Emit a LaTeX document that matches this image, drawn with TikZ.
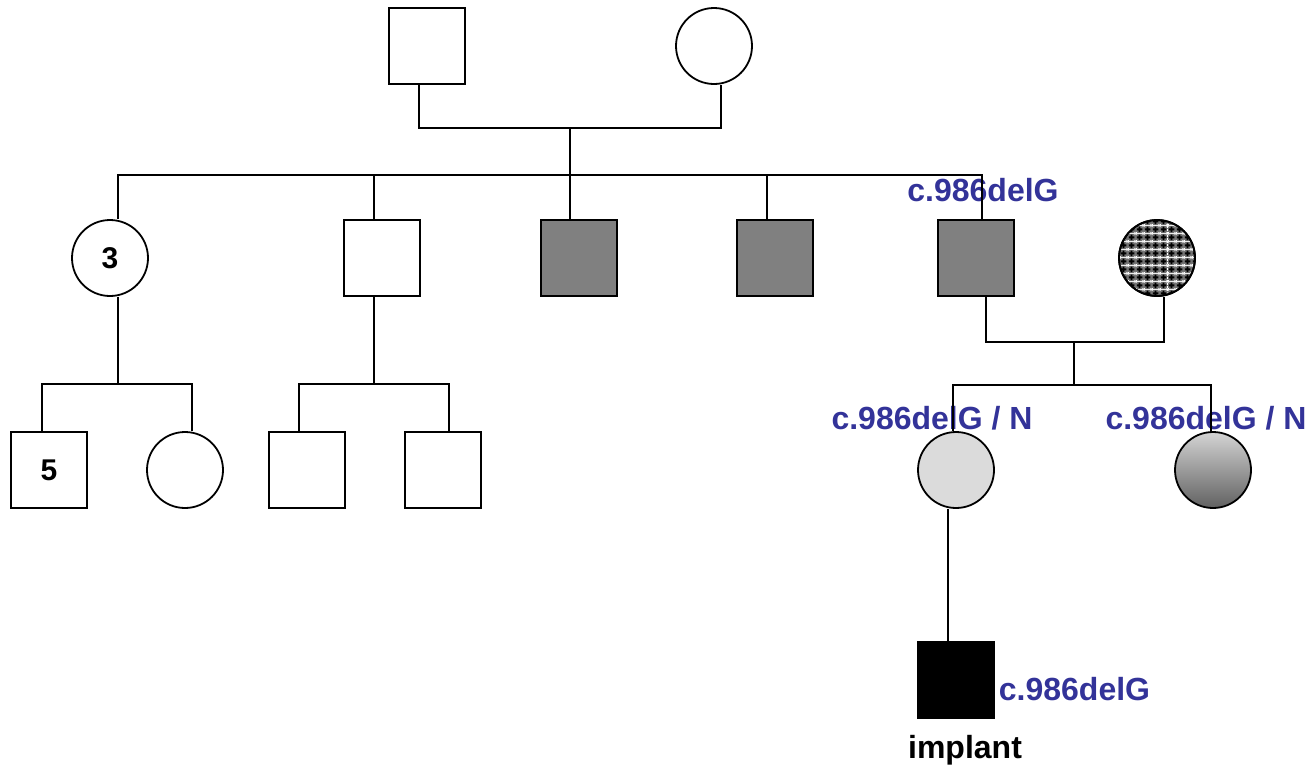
\documentclass[tikz,border=0pt]{standalone}
\usepackage{fontspec}
\setmainfont{Liberation Sans}
\usetikzlibrary{patterns}
\definecolor{lbl}{HTML}{333399}
\pgfdeclarepatterninherentlycolored{meshdots}{\pgfpointorigin}{\pgfqpoint{8pt}{8pt}}{\pgfqpoint{8pt}{8pt}}{%
  \pgfsetfillcolor{black!55}%
  \pgfpathrectangle{\pgfpointorigin}{\pgfqpoint{8pt}{8pt}}\pgfusepath{fill}%
  \pgfsetfillcolor{black}%
  \pgfpathrectangle{\pgfqpoint{3pt}{1pt}}{\pgfqpoint{2pt}{6pt}}%
  \pgfpathrectangle{\pgfqpoint{1pt}{3pt}}{\pgfqpoint{6pt}{2pt}}\pgfusepath{fill}%
  \pgfsetfillcolor{white}%
  \pgfpathrectangle{\pgfqpoint{0pt}{0pt}}{\pgfqpoint{1pt}{1pt}}%
  \pgfpathrectangle{\pgfqpoint{7pt}{0pt}}{\pgfqpoint{1pt}{1pt}}%
  \pgfpathrectangle{\pgfqpoint{0pt}{7pt}}{\pgfqpoint{1pt}{1pt}}%
  \pgfpathrectangle{\pgfqpoint{7pt}{7pt}}{\pgfqpoint{1pt}{1pt}}\pgfusepath{fill}%
}
\begin{document}
\begin{tikzpicture}[x=1pt,y=-1pt,
  line width=1.8pt,
  male/.style={draw=black,line width=1.8pt,minimum size=76pt,inner sep=0pt,rectangle,fill=white},
  female/.style={draw=black,line width=1.8pt,minimum size=76pt,inner sep=0pt,circle,fill=white},
  aff/.style={fill=black!50},
  lab/.style={text=lbl,font=\bfseries\fontsize{32}{32}\selectfont,inner sep=0pt},
  num/.style={font=\bfseries\fontsize{30}{30}\selectfont}]
\useasboundingbox (0,0) rectangle (1313,769);
% generation I
\node[male] (gf) at (427,46) {};
\node[female] (gm) at (714,46) {};
% generation II
\node[female,num] (c1) at (110,258) {3};
\node[male] (c2) at (382,258) {};
\node[male,aff] (c3) at (579,258) {};
\node[male,aff] (c4) at (775,258) {};
\node[male,aff] (c5) at (976,258) {};
\node[female,pattern=meshdots] (sp) at (1157,258) {};
\begin{scope}
  \clip (sp.center) circle (36pt);
  \draw[white,line width=0.8pt,dash pattern=on 1.5pt off 1.5pt] (1167,220) -- (1167,296);
\end{scope}
\draw[line width=1.8pt] (sp.center) circle (38pt);
% generation III
\node[male,num] (g1) at (49,470) {5};
\node[female] (g2) at (185,470) {};
\node[male] (g3) at (307,470) {};
\node[male] (g4) at (443,470) {};
\node[female,fill=black!14] (d1) at (956,470) {};
\node[female,top color=black!17,bottom color=black!62] (d2) at (1213,470) {};
% generation IV
\node[male,fill=black] (p) at (956,680) {};
% labels
\node[lab] (l1) at (983,190) {c.986delG};
\node[lab] (l2) at (932,418) {c.986delG / N};
\node[lab] (l3) at (1206,418) {c.986delG / N};
\node[lab,anchor=west] (l4) at (998,689) {c.986delG};
\node[font=\bfseries\fontsize{32}{32}\selectfont,inner sep=0pt] (imp) at (965,750) {implant};
% junction coordinates
\coordinate (j0) at (570,128);
\coordinate (s0) at (570,175);
\coordinate (j1) at (118,384);
\coordinate (j2) at (374,384);
\coordinate (j3) at (1074,342);
\coordinate (s3) at (1074,385);
% connectors
\draw ([xshift=-8pt]gf.south) |- (j0) -| ([xshift=7pt]gm.south);
\draw (j0) -- (s0);
\draw (s0) -| ([xshift=8pt]c1.north);
\draw (s0) -| ([xshift=-8pt]c2.north);
\draw (s0) -- (c3.north -| s0);
\draw (s0) -| ([xshift=-8pt]c4.north);
\draw (s0) -| ([xshift=6pt]c5.north);
\draw ([xshift=8pt]c1.south) -- (j1);
\draw (j1) -| ([xshift=-7pt]g1.north);
\draw (j1) -| ([xshift=7pt]g2.north);
\draw ([xshift=-8pt]c2.south) -- (j2);
\draw (j2) -| ([xshift=-8pt]g3.north);
\draw (j2) -| ([xshift=6pt]g4.north);
\draw ([xshift=10pt]c5.south) |- (j3) -| ([xshift=7pt]sp.south);
\draw (j3) -- (s3);
\draw (s3) -| ([xshift=-3pt]d1.north);
\draw (s3) -| ([xshift=-2pt]d2.north);
\draw ([xshift=-8pt]d1.south) -- ([xshift=-8pt]p.north);
\end{tikzpicture}
\end{document}
